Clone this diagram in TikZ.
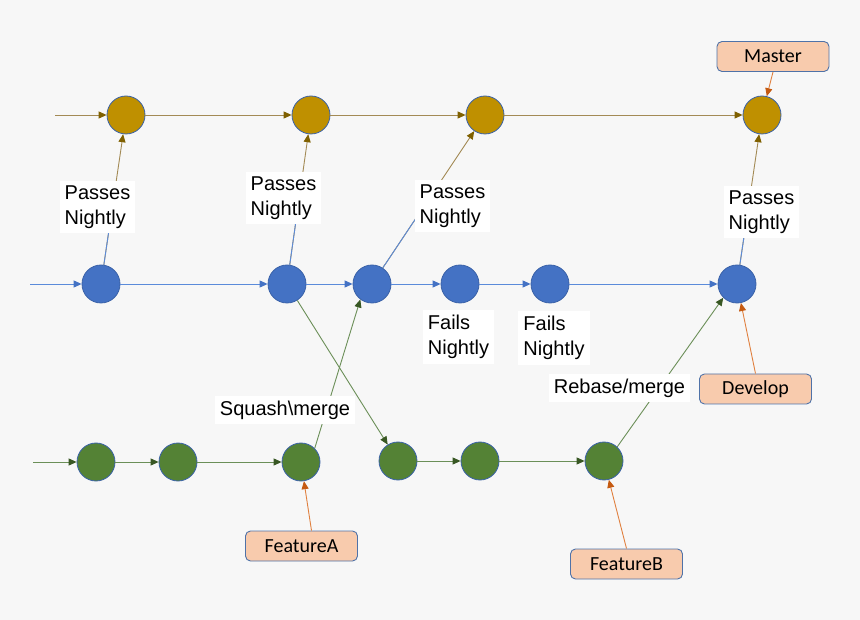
\documentclass[tikz,border=0pt]{standalone}
\usepackage{fontspec}
\setmainfont{Liberation Sans}
\newfontfamily\boxfont{Carlito}
\usetikzlibrary{arrows.meta,calc}
\definecolor{bgc}{HTML}{F7F7F7}
\definecolor{goldf}{HTML}{BF9000}
\definecolor{bluef}{HTML}{4472C4}
\definecolor{greenf}{HTML}{548235}
\definecolor{circd}{HTML}{3A62A8}
\definecolor{goldl}{HTML}{A38A55}
\definecolor{goldt}{HTML}{7F6000}
\definecolor{bluel}{HTML}{5B8BDA}
\definecolor{greenl}{HTML}{6B8F58}
\definecolor{greent}{HTML}{385723}
\definecolor{orf}{HTML}{F8CBAD}
\definecolor{orl}{HTML}{E0803F}
\definecolor{ort}{HTML}{C55A11}
\definecolor{orb}{HTML}{4F72A8}
\tikzset{
  commit/.style={circle,minimum size=38pt,inner sep=0pt,draw=circd,line width=0.8pt},
  gc/.style={commit,fill=goldf},
  bc/.style={commit,fill=bluef},
  ec/.style={commit,fill=greenf},
  lbl/.style={fill=white,align=left,inner xsep=5pt,inner ysep=5pt,font=\fontsize{20}{25}\selectfont},
  tag/.style={rectangle,rounded corners=5pt,fill=orf,draw=orb,line width=0.9pt,minimum width=112pt,minimum height=30pt,inner sep=0pt,font=\boxfont\fontsize{20}{22}\selectfont},
  garr/.style={draw=goldl,line width=0.9pt,-{Triangle[length=8pt,width=7pt,fill=goldt,color=goldt]}},
  barr/.style={draw=bluel,line width=0.9pt,-{Triangle[length=8pt,width=7pt,fill=bluef,color=bluef]}},
  earr/.style={draw=greenl,line width=0.9pt,-{Triangle[length=8pt,width=7pt,fill=greent,color=greent]}},
  oarr/.style={draw=orl,line width=0.9pt,-{Triangle[length=8pt,width=7pt,fill=ort,color=ort]}},
}
\begin{document}
\begin{tikzpicture}[x=1pt,y=-1pt]
\fill[bgc] (0,0) rectangle (860,620);
\useasboundingbox (0,0) rectangle (860,620);
% gold row
\node[gc] (go1) at (126,115) {};
\node[gc] (go2) at (311,115) {};
\node[gc] (go3) at (485,115) {};
\node[gc] (go4) at (762,115) {};
% blue row
\node[bc] (bl1) at (101,284) {};
\node[bc] (bl2) at (287,284) {};
\node[bc] (bl3) at (372,284) {};
\node[bc] (bl4) at (460,284) {};
\node[bc] (bl5) at (550,284) {};
\node[bc] (bl6) at (737,284) {};
% green row
\node[ec] (gr1) at (96,462) {};
\node[ec] (gr2) at (178,462) {};
\node[ec] (gr3) at (301,462) {};
\node[ec] (gr4) at (398,461) {};
\node[ec] (gr5) at (480,461) {};
\node[ec] (gr6) at (604,461) {};
% start points
\coordinate (sg) at (55,115);
\coordinate (sb) at (30,284);
\coordinate (se) at (33,462);
% horizontal chains
\draw[garr] (sg) -- (go1);
\draw[garr] (go1) -- (go2);
\draw[garr] (go2) -- (go3);
\draw[garr] (go3) -- (go4);
\draw[barr] (sb) -- (bl1);
\draw[barr] (bl1) -- (bl2);
\draw[barr] (bl2) -- (bl3);
\draw[barr] (bl3) -- (bl4);
\draw[barr] (bl4) -- (bl5);
\draw[barr] (bl5) -- (bl6);
\draw[earr] (se) -- (gr1);
\draw[earr] (gr1) -- (gr2);
\draw[earr] (gr2) -- (gr3);
\draw[earr] (gr4) -- (gr5);
\draw[earr] (gr5) -- (gr6);
% promotions to master
\draw[garr] (bl1) -- (go1);
\draw[draw=bluel,line width=0.9pt] (bl1) -- ($(bl1)!0.5!(go1)$);
\draw[garr] (bl2) -- (go2);
\draw[draw=bluel,line width=0.9pt] (bl2) -- ($(bl2)!0.5!(go2)$);
\draw[garr] (bl3) -- (go3);
\draw[draw=bluel,line width=0.9pt] (bl3) -- ($(bl3)!0.5!(go3)$);
\draw[garr] (bl6) -- (go4);
\draw[draw=bluel,line width=0.9pt] (bl6) -- ($(bl6)!0.5!(go4)$);
% branch/merge
\draw[earr] (bl2) -- (gr4);
\draw[earr] (gr3.45) -- (bl3.233);
\draw[earr] (gr6.47) -- (bl6.225);
% labels
\node[lbl] (p1) at (97.5,207) {Passes\\Nightly};
\node[lbl] (p2) at (283.5,198) {Passes\\Nightly};
\node[lbl] (p3) at (452.5,206) {Passes\\Nightly};
\node[lbl] (p4) at (761.5,212) {Passes\\Nightly};
\node[lbl] (f1) at (458.5,337) {Fails\\Nightly};
\node[lbl] (f2) at (554,338) {Fails\\Nightly};
\node[lbl] (sq) at (285,410) {Squash\textbackslash merge};
\node[lbl] (rb) at (619.5,388) {Rebase/merge};
% tags
\node[tag] (ma) at (773,56.5) {Master};
\node[tag] (dv) at (755.5,389) {Develop};
\node[tag] (fa) at (301.5,546) {FeatureA};
\node[tag] (fb) at (626.5,564) {FeatureB};
\draw[oarr] (ma.south) -- (go4);
\draw[oarr] (dv.north) -- (bl6);
\draw[oarr] ([xshift=10pt]fa.north) -- (gr3);
\draw[oarr] (fb.north) -- (gr6);
\end{tikzpicture}
\end{document}
